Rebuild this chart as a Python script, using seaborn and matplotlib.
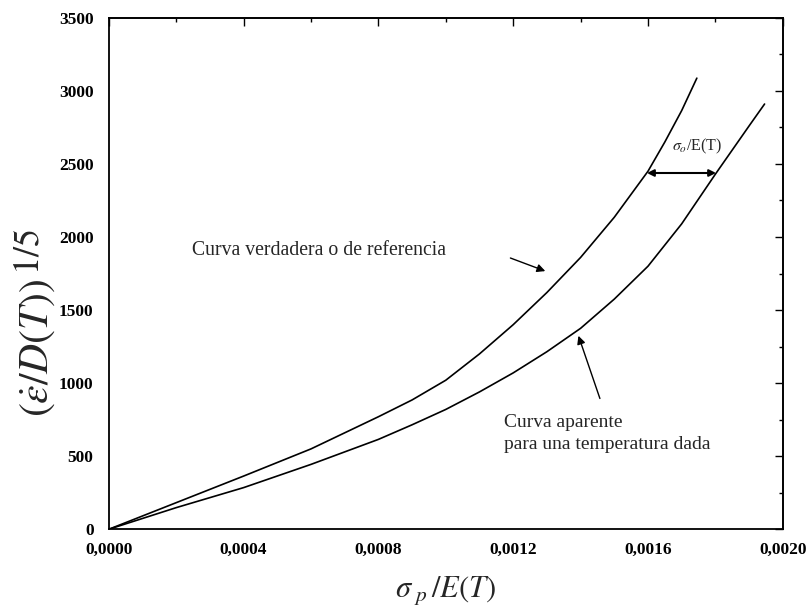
import matplotlib
matplotlib.use("Agg")
import matplotlib.pyplot as plt
from matplotlib.ticker import MultipleLocator, FuncFormatter, NullFormatter
import seaborn as sns
import pandas as pd

# Data
x_true = [0.0, 0.0002, 0.0004, 0.0006, 0.0008, 0.0009, 0.0010, 0.0011, 0.0012,
          0.0013, 0.0014, 0.0015, 0.0016, 0.00165, 0.0017, 0.001745]
y_true = [0, 182, 364, 550, 770, 885, 1020, 1200, 1400,
          1620, 1860, 2135, 2450, 2650, 2865, 3087]

x_app = [0.0, 0.0002, 0.0004, 0.0006, 0.0008, 0.0009, 0.0010, 0.0011, 0.0012,
         0.0013, 0.0014, 0.0015, 0.0016, 0.0017, 0.0018, 0.0019, 0.001946]
y_app = [0, 148, 285, 444, 615, 715, 820, 940, 1070,
         1215, 1375, 1575, 1800, 2090, 2430, 2760, 2910]

x_ticks = [0.0, 0.0004, 0.0008, 0.0012, 0.0016, 0.0020]
y_ticks = [0, 500, 1000, 1500, 2000, 2500, 3000, 3500]

label_true = "Curva verdadera o de referencia"
label_app = "Curva aparente\npara una temperatura dada"
label_sigma = r"$\sigma_o$/E(T)"
ylabel_main = r"$(\dot{\varepsilon}/D(T))$"
ylabel_sup = r"$\mathit{1/5}$"
xlabel = r"$\sigma_{\ p}\,/E(T)$"

sns.set_theme(style="white")
plt.rcParams['font.family'] = ['Liberation Serif', 'DejaVu Serif']
plt.rcParams['mathtext.fontset'] = 'stix'

df_true = pd.DataFrame({"x": x_true, "y": y_true})
df_app = pd.DataFrame({"x": x_app, "y": y_app})

fig = plt.figure(figsize=(8.12, 6.14), dpi=100)
ax = fig.add_axes([0.134, 0.138, 0.830, 0.833])

sns.lineplot(data=df_true, x="x", y="y", ax=ax, color="black", lw=1.2,
             sort=False, estimator=None)
sns.lineplot(data=df_app, x="x", y="y", ax=ax, color="black", lw=1.2,
             sort=False, estimator=None)

ax.set_xlim(0, 0.0020)
ax.set_ylim(0, 3500)
ax.set_xticks(x_ticks)
ax.set_yticks(y_ticks)
ax.xaxis.set_minor_locator(MultipleLocator(0.0002))
ax.yaxis.set_minor_locator(MultipleLocator(250))
ax.xaxis.set_major_formatter(FuncFormatter(lambda v, p: f"{v:.4f}".replace(".", ",")))
ax.tick_params(which="both", direction="out", colors="black",
               labelsize=12.5, width=1.0)
ax.tick_params(which="major", length=6)
ax.tick_params(which="minor", length=3)
ax.tick_params(axis="x", which="major", pad=3)
ax.tick_params(axis="y", which="major", pad=5)
for lab in ax.get_xticklabels() + ax.get_yticklabels():
    lab.set_fontweight("bold")
for s in ax.spines.values():
    s.set_color("black")
    s.set_linewidth(1.3)

# inward ticks on top and right
secx = ax.secondary_xaxis("top")
secx.set_xticks(x_ticks)
secx.xaxis.set_minor_locator(MultipleLocator(0.0002))
secx.xaxis.set_major_formatter(NullFormatter())
secx.tick_params(which="both", direction="in", colors="black", width=1.0)
secx.tick_params(which="major", length=6)
secx.tick_params(which="minor", length=3)
secy = ax.secondary_yaxis("right")
secy.set_yticks(y_ticks)
secy.yaxis.set_minor_locator(MultipleLocator(250))
secy.yaxis.set_major_formatter(NullFormatter())
secy.tick_params(which="both", direction="in", colors="black", width=1.0)
secy.tick_params(which="major", length=6)
secy.tick_params(which="minor", length=3)

ax.set_xlabel(xlabel, fontsize=22, labelpad=12)
ax.set_ylabel("")
fig.text(38 / 812, 1 - 348 / 614, ylabel_main, fontsize=30, rotation=90,
         ha="center", va="center")
fig.text(30 / 812, 1 - 252 / 614, ylabel_sup, fontsize=26, rotation=90,
         ha="center", va="center")

ax.text(0.000246, 1911, label_true, fontsize=14.2, va="center", ha="left")
ax.annotate("", xy=(0.001303, 1760), xytext=(0.001184, 1863),
            arrowprops=dict(arrowstyle="-|>", color="black", lw=1.0,
                            mutation_scale=12))
ax.text(0.001172, 655, label_app, fontsize=14, va="center", ha="left",
        linespacing=1.4)
ax.annotate("", xy=(0.001391, 1342), xytext=(0.00146, 877),
            arrowprops=dict(arrowstyle="-|>", color="black", lw=1.0,
                            mutation_scale=12))
ax.annotate("", xy=(0.001597, 2438), xytext=(0.001802, 2438),
            arrowprops=dict(arrowstyle="<|-|>", color="black", lw=1.5,
                            mutation_scale=10, shrinkA=0, shrinkB=0))
ax.text(0.001745, 2620, label_sigma, fontsize=11.5, ha="center", va="center")

fig.savefig("out.png", dpi=100)
